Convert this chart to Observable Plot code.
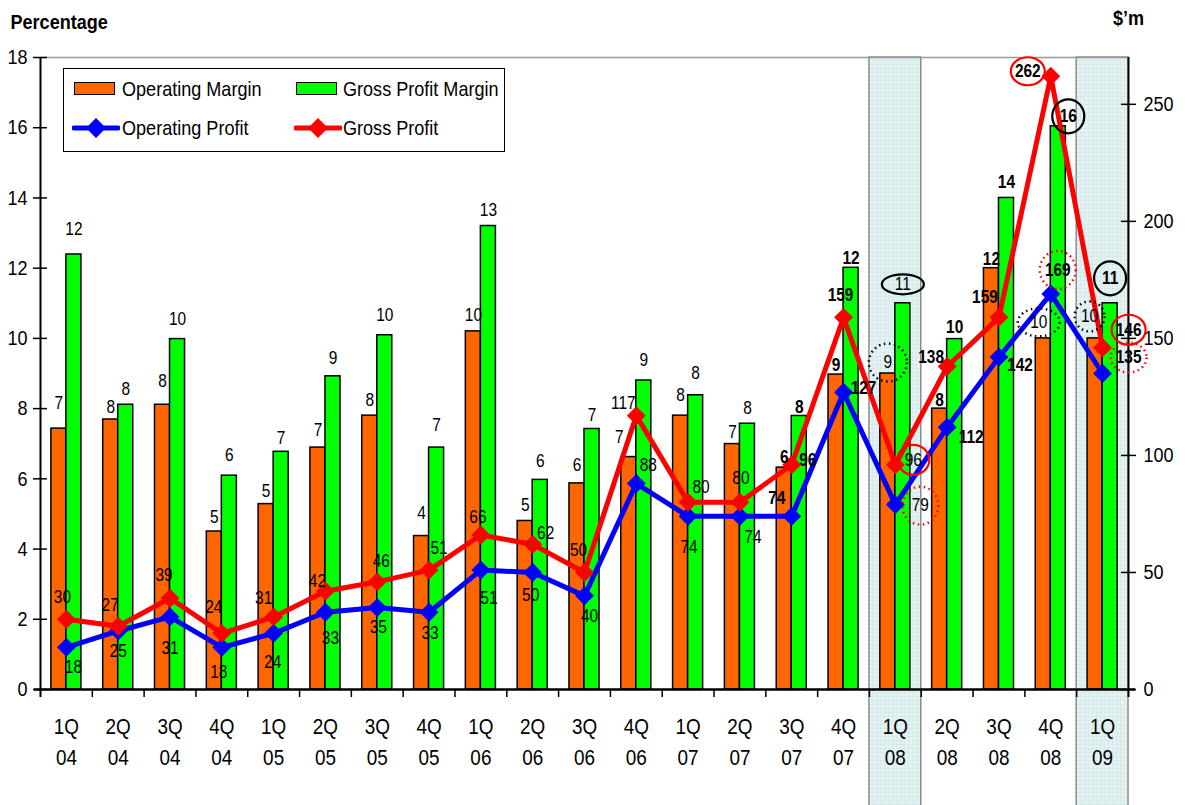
<!DOCTYPE html>
<html><head><meta charset="utf-8">
<script src="https://cdn.jsdelivr.net/npm/d3@7"></script>
<script src="https://cdn.jsdelivr.net/npm/@observablehq/plot@0.6"></script>
<style>
body{margin:0;background:#fff;}
#wrap{position:relative;width:1185px;height:805px;overflow:hidden;font-family:"Liberation Sans",Arial,Helvetica,sans-serif;}
#legend{position:absolute;left:63px;top:68px;width:442px;height:84px;border:1.5px solid #000;background:#fff;box-sizing:border-box;}
.it{position:absolute;font-size:21px;line-height:24px;white-space:nowrap;color:#000;transform:scaleX(0.86);transform-origin:left center;}
.sw{position:absolute;width:41px;height:13px;border:1.5px solid #000;box-sizing:border-box;}
.ln{position:absolute;}
</style></head>
<body>
<svg width="0" height="0" style="position:absolute">
<defs>
<pattern id="hatch" width="4" height="4" patternUnits="userSpaceOnUse">
<rect width="4" height="4" fill="#e4f2f3"/>
<path d="M0 0H4M0 0V4" stroke="#c9e3e5" stroke-width="0.8"/>
</pattern>
</defs>
</svg>
<div id="wrap">
<div id="chart"></div>
<div id="legend">
 <div class="sw" style="left:10px;top:13px;background:#ff6600"></div>
 <div class="it" style="left:58px;top:8px">Operating Margin</div>
 <div class="sw" style="left:232px;top:13px;background:#00ff00"></div>
 <div class="it" style="left:279px;top:8px">Gross Profit Margin</div>
 <svg class="ln" style="left:8px;top:48px" width="48" height="22"><line x1="2" y1="11" x2="46" y2="11" stroke="#0000ff" stroke-width="5" stroke-linecap="round"/><path d="M24 1L34 11L24 21L14 11Z" fill="#0000ff"/></svg>
 <div class="it" style="left:58px;top:47px">Operating Profit</div>
 <svg class="ln" style="left:230px;top:48px" width="48" height="22"><line x1="2" y1="11" x2="46" y2="11" stroke="#ff0000" stroke-width="5" stroke-linecap="round"/><path d="M24 1L34 11L24 21L14 11Z" fill="#ff0000"/></svg>
 <div class="it" style="left:279px;top:47px">Gross Profit</div>
</div>
</div>
<script>
// ---- data ----
const quarters = ["1Q","2Q","3Q","4Q","1Q","2Q","3Q","4Q","1Q","2Q","3Q","4Q","1Q","2Q","3Q","4Q","1Q","2Q","3Q","4Q","1Q"];
const years    = ["04","04","04","04","05","05","05","05","06","06","06","06","07","07","07","07","08","08","08","08","09"];
const operatingMargin   = [7.43,7.69,8.11,4.5,5.28,6.89,7.80,4.37,10.2,4.80,5.87,6.62,7.80,6.99,6.32,8.97,9.0,8.0,12.0,10.0,10.0];
const grossProfitMargin = [12.39,8.11,9.98,6.09,6.77,8.92,10.09,6.89,13.2,5.97,7.42,8.80,8.38,7.57,7.79,12.01,11.0,9.98,14.0,16.04,11.0];
const operatingProfit   = [18,25,31,18,24,33,35,33,51,50,40,88,74,74,74,127,79,112,142,169,135];
const grossProfit       = [30,27,39,24,31,42,46,51,66,62,50,117,80,80,96,159,96,138,159,262,146];
const highlighted = ["1Q 08","1Q 09"];
const leftTicks  = [0,2,4,6,8,10,12,14,16,18];
const rightTicks = [0,50,100,150,200,250];
const leftMax = 18, rightMax = 270;

// ---- layout ----
const W=1185,H=805,ML=40,MR=57,MT=57,MB=116;
const n = quarters.length;
const step = (W-ML-MR)/n;
const unit = (H-MT-MB)/leftMax;
const k = leftMax/rightMax;
const SX = 0.86; // horizontal condensing of the Arial-like font
const FONT = '"Liberation Sans",Arial,Helvetica,sans-serif';
const cats = quarters.map((q,i)=>q+" "+years[i]);
const rows = cats.map((c,i)=>({cat:c,i,om:operatingMargin[i],gpm:grossProfitMargin[i],op:operatingProfit[i]*k,gp:grossProfit[i]*k}));

// label offsets (px) relative to bar top / marker
const omDx  = [-7.5,-7.5,-7.5,-7.5,-7.5,-7.5,-7.5,-7.5,-7.5,-7.5,-7.5,-17,-7.5,-7.5,-7.5,-7.5,-7.5,-7.5,-7.5,-12,-13];
const omDy  = [-25,-12,-24,-14,-13,-17,-15,-23,-16,-16,-18,-20,-20,-12,-10,-9,-11,-8,-9,-16,-22];
const gpmDx = [7.5,7.5,7.5,7.5,7.5,7.5,7.5,7.5,7.5,7.5,7.5,7.5,7.5,7.5,7.5,7.5,7.5,7.5,7.5,17.5,7.5];
const gpmDy = [-25,-16,-20,-20,-14,-18,-20,-22,-16,-19,-14,-20,-22,-15,-9,-10,-19,-12,-16,-10,-25];
const gpOff = [[-4,-22],[-8,-21],[-6,-23],[-8,-26],[-10,-19],[-8,-10],[4,-21],[10,-22],[-3,-18],[13,-11],[-6,-22],[-13,-12],[13,-15],[1,-24],[16,-5],[-3,-22],[18,-5],[-16,-9],[-14,-20],[-23,-5],[26,-18]];
const opOff = [[7,20],[0,20],[0,31],[-3,25],[-1,29],[5,26],[1,20],[1,21],[8,28],[-2,23],[5,20],[12,-18],[1,31],[13,21],[-15,-18],[20,-4],[25,1],[24,10],[21,8],[7,-24],[26,-16]];
const bold = i => i>=14 && i!==16;
const omBold = i => bold(i) && i!==19 && i!==20;

function offset(key,i){
  if(key==="om") return [omDx[i],omDy[i]];
  if(key==="gpm") return [gpmDx[i],gpmDy[i]];
  if(key==="gp") return gpOff[i];
  return opOff[i];
}
function ellipse(rx,ry){
  const c=0.5523;
  return {draw(ctx){
    ctx.moveTo(rx,0);
    ctx.bezierCurveTo(rx,c*ry,c*rx,ry,0,ry);
    ctx.bezierCurveTo(-c*rx,ry,-rx,c*ry,-rx,0);
    ctx.bezierCurveTo(-rx,-c*ry,-c*rx,-ry,0,-ry);
    ctx.bezierCurveTo(c*rx,-ry,rx,-c*ry,rx,0);
    ctx.closePath();
  }};
}
const notes = [
  {i:16,key:"gpm",rx:21,ry:10,color:"#000",dash:false},
  {i:16,key:"om",rx:19,ry:19,color:"#000",dash:true},
  {i:16,key:"gp",rx:16,ry:15,color:"#ff0000",dash:false},
  {i:16,key:"op",rx:18,ry:19,color:"#ff0000",dash:true},
  {i:19,key:"gp",rx:17,ry:14,color:"#ff0000",dash:false},
  {i:19,key:"gpm",rx:16,ry:17,color:"#000",dash:false},
  {i:19,key:"op",rx:18,ry:19,color:"#ff0000",dash:true},
  {i:19,key:"om",rx:21,ry:14,color:"#000",dash:true},
  {i:20,key:"gpm",rx:16,ry:17,color:"#000",dash:false},
  {i:20,key:"om",rx:15,ry:15,color:"#000",dash:true},
  {i:20,key:"gp",rx:17,ry:15,color:"#ff0000",dash:false},
  {i:20,key:"op",rx:18,ry:15,color:"#ff0000",dash:true}
];

const marks = [];
// highlighted quarters
marks.push(Plot.barY(highlighted,{x:d=>d,y1:-3.6,y2:leftMax,fill:"url(#hatch)",stroke:"#8c8c8c",strokeWidth:1.5,insetLeft:-0.21*step,insetRight:-0.21*step}));
// top frame line
marks.push(Plot.ruleY([leftMax],{stroke:"#999",strokeWidth:1.5}));
// bars
marks.push(Plot.barY(rows,{x:"cat",y:"om",fill:"#ff6600",stroke:"#000",strokeWidth:1.5,insetRight:0.29*step}));
marks.push(Plot.barY(rows,{x:"cat",y:"gpm",fill:"#00ff00",stroke:"#000",strokeWidth:1.5,insetLeft:0.29*step}));
// axes lines
marks.push(Plot.ruleY([0],{stroke:"#000",strokeWidth:2.5,insetLeft:-6,insetRight:-7}));
marks.push(Plot.ruleX(cats.slice(1),{x:d=>d,y1:0,y2:-8/unit,dx:-step/2,stroke:"#000",strokeWidth:1.5}));
marks.push(Plot.ruleX([cats[0]],{x:d=>d,y1:-8/unit,y2:leftMax,dx:-step/2,stroke:"#000",strokeWidth:2}));
marks.push(Plot.ruleX([cats[n-1]],{x:d=>d,y1:-8/unit,y2:leftMax,dx:step/2,stroke:"#000",strokeWidth:2}));
// left axis
marks.push(Plot.axisY(leftTicks,{anchor:"left",tickSize:7,tickPadding:6,fontSize:21,label:null,strokeWidth:1.5}));
marks.push(Plot.tickY(leftTicks,{y:d=>d,insetRight:W-ML-MR-7,strokeWidth:1.5}));
// right axis
marks.push(Plot.axisY(rightTicks.map(v=>v*k),{anchor:"right",tickSize:7,tickPadding:8,fontSize:21,label:null,strokeWidth:1.5,tickFormat:d=>String(Math.round(d/k))}));
marks.push(Plot.tickY(rightTicks.map(v=>v*k),{y:d=>d,insetLeft:W-ML-MR-7,strokeWidth:1.5}));
// x labels
marks.push(Plot.text(cats,{x:d=>d,y:()=>0,text:(d,i)=>quarters[i],dy:37,fontSize:22}));
marks.push(Plot.text(cats,{x:d=>d,y:()=>0,text:(d,i)=>years[i],dy:68,fontSize:22}));
// lines
marks.push(Plot.line(rows,{x:"cat",y:"op",stroke:"#0000ff",strokeWidth:5}));
marks.push(Plot.dot(rows,{x:"cat",y:"op",symbol:"diamond2",r:8.5,fill:"#0000ff"}));
marks.push(Plot.line(rows,{x:"cat",y:"gp",stroke:"#ff0000",strokeWidth:5}));
marks.push(Plot.dot(rows,{x:"cat",y:"gp",symbol:"diamond2",r:8.5,fill:"#ff0000"}));
// value labels
rows.forEach((r,i)=>{
  marks.push(Plot.text([r],{x:"cat",y:"om",text:d=>String(Math.round(d.om)),dx:omDx[i],dy:omDy[i],fontSize:18,fontWeight:omBold(i)?"bold":"normal"}));
  marks.push(Plot.text([r],{x:"cat",y:"gpm",text:d=>String(Math.round(d.gpm)),dx:gpmDx[i],dy:gpmDy[i],fontSize:18,fontWeight:bold(i)?"bold":"normal"}));
  marks.push(Plot.text([r],{x:"cat",y:"gp",text:()=>String(grossProfit[i]),dx:gpOff[i][0],dy:gpOff[i][1],fontSize:18,fontWeight:bold(i)?"bold":"normal"}));
  marks.push(Plot.text([r],{x:"cat",y:"op",text:()=>String(operatingProfit[i]),dx:opOff[i][0],dy:opOff[i][1],fontSize:18,fontWeight:bold(i)?"bold":"normal"}));
});
// annotations
notes.forEach(a=>{
  const [dx,dy]=offset(a.key,a.i);
  marks.push(Plot.dot([rows[a.i]],{x:"cat",y:a.key,dx,dy,r:5,symbol:ellipse(a.rx,a.ry),fill:"none",stroke:a.color,strokeWidth:a.dash?2.5:2.2,strokeDasharray:a.dash?"1.5,3.5":null}));
});
// titles
marks.push(Plot.text(["Percentage"],{frameAnchor:"top-left",lineAnchor:"middle",dx:-30,dy:-35,textAnchor:"start",fontWeight:"bold",fontSize:21}));
marks.push(Plot.text(["$\u2019m"],{frameAnchor:"top-right",lineAnchor:"middle",dx:0,dy:-39,textAnchor:"middle",fontWeight:"bold",fontSize:21}));

const chart = Plot.plot({
  width:W,height:H,marginLeft:ML,marginRight:MR,marginTop:MT,marginBottom:MB,
  x:{type:"band",domain:cats,paddingInner:0.42,paddingOuter:0.21,round:false,axis:null},
  y:{domain:[0,leftMax]},
  style:{fontFamily:FONT,fontSize:"18px",background:"transparent",overflow:"visible",color:"#000"},
  marks
});
// condense the text horizontally about each label's own anchor (narrow Arial look)
chart.querySelectorAll("text").forEach(t=>{
  const x = parseFloat(t.getAttribute("x")) || 0;
  const tr = t.getAttribute("transform") || "";
  t.setAttribute("transform", `${tr} translate(${x},0) scale(${SX},1) translate(${-x},0)`);
});
document.getElementById("chart").appendChild(chart);
</script>
</body></html>
